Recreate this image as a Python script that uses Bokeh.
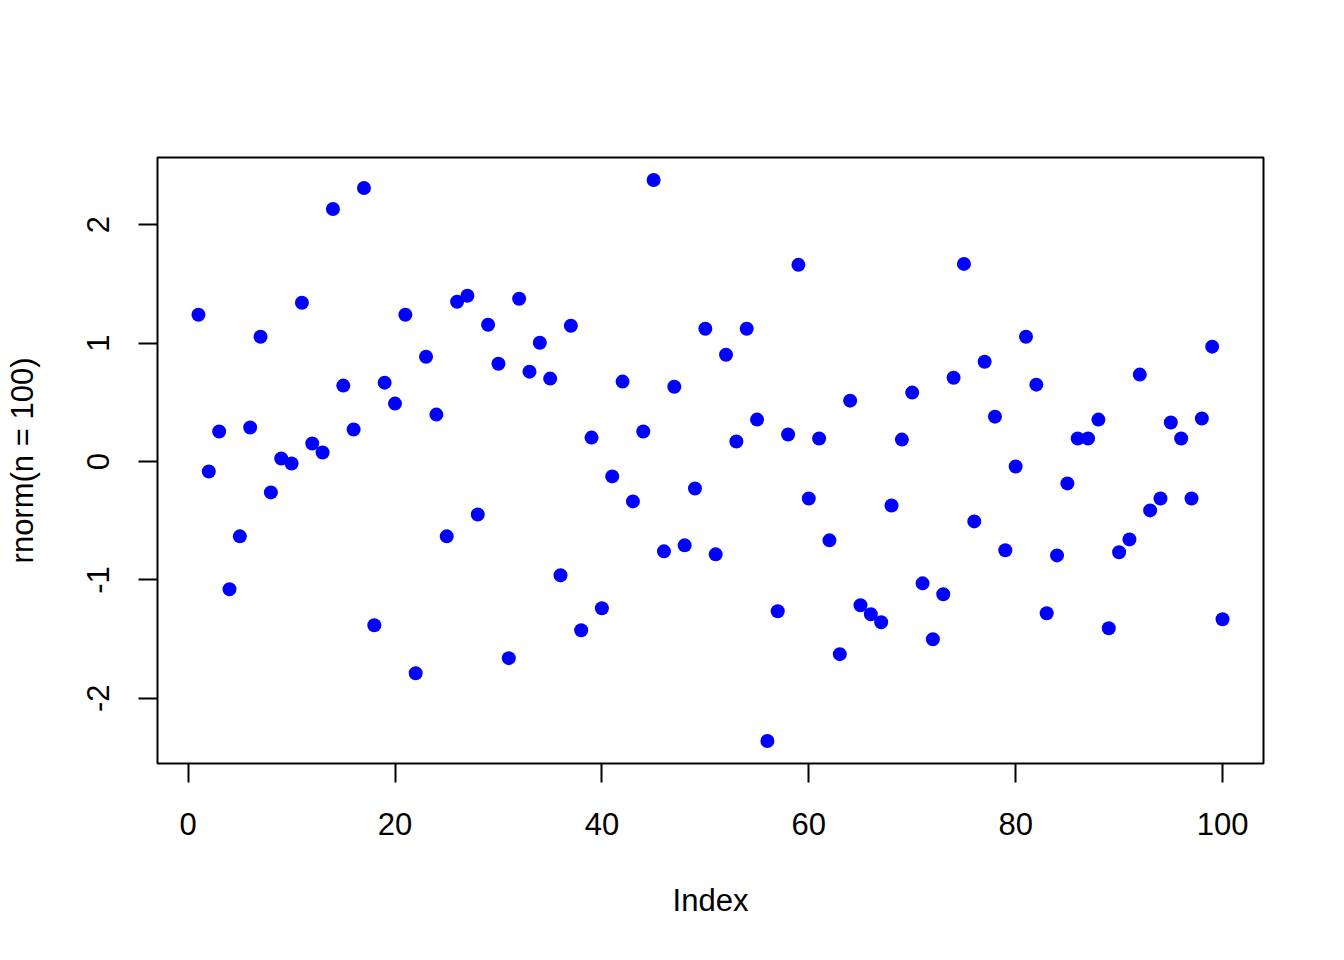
from bokeh.plotting import figure
from bokeh.models import Range1d, FixedTicker, ColumnDataSource
from bokeh.embed import file_html
from bokeh.resources import INLINE

index = list(range(1, 101))
values = [
    1.239, -0.084, 0.253, -1.079, -0.632, 0.287, 1.054, -0.261, 0.025, -0.017,
    1.341, 0.152, 0.076, 2.133, 0.641, 0.270, 2.310, -1.383, 0.666, 0.489,
    1.239, -1.788, 0.885, 0.396, -0.632, 1.349, 1.400, -0.447, 1.155, 0.826,
    -1.661, 1.374, 0.759, 1.003, 0.700, -0.961, 1.147, -1.425, 0.202, -1.239,
    -0.126, 0.675, -0.337, 0.253, 2.378, -0.759, 0.632, -0.708, -0.228, 1.121,
    -0.784, 0.902, 0.169, 1.121, 0.354, -2.361, -1.265, 0.228, 1.661, -0.312,
    0.194, -0.666, -1.627, 0.514, -1.214, -1.290, -1.358, -0.371, 0.185, 0.582,
    -1.029, -1.501, -1.121, 0.708, 1.669, -0.506, 0.843, 0.379, -0.750, -0.042,
    1.054, 0.649, -1.282, -0.793, -0.185, 0.194, 0.194, 0.354, -1.408, -0.767,
    -0.658, 0.734, -0.413, -0.312, 0.329, 0.194, -0.312, 0.363, 0.970, -1.332,
]
x_ticks = [0, 20, 40, 60, 80, 100]
y_ticks = [-2, -1, 0, 1, 2]
y_tick_labels = ["-2", "-1", "0", "1", "2"]
x_label = "Index"
y_label = "rnorm(n = 100)"

src = ColumnDataSource(dict(x=index, y=values))

xr = (min(index), max(index))
yr = (min(values), max(values))
xpad = 0.04 * (xr[1] - xr[0])
ypad = 0.04 * (yr[1] - yr[0])

p = figure(
    frame_width=1106, frame_height=606,
    min_border_left=157, min_border_top=157, min_border_right=81, min_border_bottom=189,
    x_range=Range1d(xr[0] - xpad, xr[1] + xpad),
    y_range=Range1d(yr[0] - ypad, yr[1] + ypad),
    output_backend="svg", toolbar_location=None,
    background_fill_color="white", border_fill_color="white",
)
p.outline_line_color = "black"
p.outline_line_width = 2
p.xgrid.visible = False
p.ygrid.visible = False

p.scatter("x", "y", source=src, size=14, color="#0000FF", line_color=None)

FONT = "Liberation Sans"
for ax in (p.xaxis[0], p.yaxis[0]):
    ax.axis_line_color = None
    ax.major_tick_line_color = "black"
    ax.major_tick_line_width = 2
    ax.major_tick_out = 19
    ax.major_tick_in = 0
    ax.minor_tick_line_color = None
    ax.major_label_text_font = FONT
    ax.major_label_text_font_size = "31px"
    ax.major_label_text_color = "black"
    ax.axis_label_text_font = FONT
    ax.axis_label_text_font_size = "31px"
    ax.axis_label_text_font_style = "normal"
    ax.axis_label_text_color = "black"

p.xaxis.ticker = FixedTicker(ticks=x_ticks)
p.yaxis.ticker = FixedTicker(ticks=y_ticks)
p.yaxis.major_label_overrides = {t: s for t, s in zip(y_ticks, y_tick_labels)}
p.xaxis.axis_label = x_label
p.yaxis.axis_label = y_label
p.yaxis.major_label_orientation = "vertical"
p.xaxis.major_label_standoff = 30
p.yaxis.major_label_standoff = 29
p.xaxis.axis_label_standoff = 45
p.yaxis.axis_label_standoff = 45

open("out.html", "w").write(file_html(p, INLINE))
